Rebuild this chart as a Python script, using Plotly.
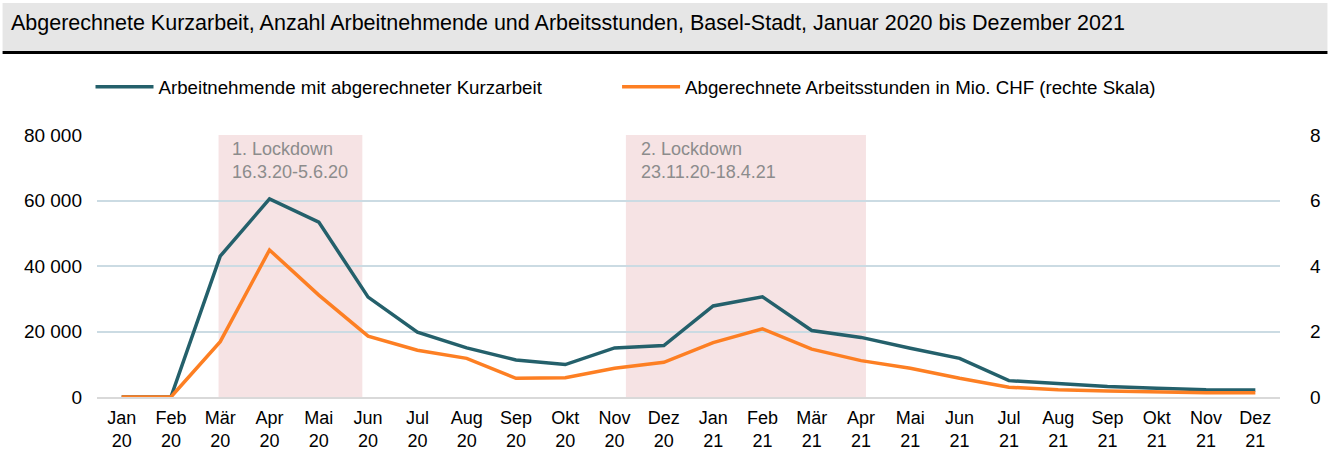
import plotly.graph_objects as go

months = ["Jan<br>20", "Feb<br>20", "Mär<br>20", "Apr<br>20", "Mai<br>20", "Jun<br>20",
          "Jul<br>20", "Aug<br>20", "Sep<br>20", "Okt<br>20", "Nov<br>20", "Dez<br>20",
          "Jan<br>21", "Feb<br>21", "Mär<br>21", "Apr<br>21", "Mai<br>21", "Jun<br>21",
          "Jul<br>21", "Aug<br>21", "Sep<br>21", "Okt<br>21", "Nov<br>21", "Dez<br>21"]

arbeitnehmende = [0, 0, 43000, 60500, 53400, 30500, 19800, 15000, 11300, 9900, 15000, 15700,
                  27800, 30600, 20300, 18200, 14900, 11800, 5000, 4000, 3200, 2700, 2200, 2100]

arbeitsstunden = [0, 0, 1.69, 4.49, 3.11, 1.86, 1.43, 1.18, 0.57, 0.59, 0.88, 1.06,
                  1.66, 2.08, 1.46, 1.11, 0.88, 0.57, 0.30, 0.22, 0.18, 0.15, 0.13, 0.13]

left_ticks = [0, 20000, 40000, 60000, 80000]
left_ticktext = ["0", "20 000", "40 000", "60 000", "80 000"]
right_ticks = [0, 2, 4, 6, 8]

lockdowns = [
    {"x0": 1.966, "x1": 4.883, "label": "1. Lockdown<br>16.3.20-5.6.20", "tx": 2.25},
    {"x0": 10.23, "x1": 15.1, "label": "2. Lockdown<br>23.11.20-18.4.21", "tx": 10.55},
]

title = "Abgerechnete Kurzarbeit, Anzahl Arbeitnehmende und Arbeitsstunden, Basel-Stadt, Januar 2020 bis Dezember 2021"

TEAL = "#24606b"
ORANGE = "#fd7f23"
FONT = "Liberation Sans, Arial, sans-serif"

xidx = list(range(len(months)))

fig = go.Figure()
fig.add_trace(go.Scatter(x=xidx, y=arbeitnehmende, mode="lines",
                         name="Arbeitnehmende mit abgerechneter Kurzarbeit",
                         line=dict(color=TEAL, width=3.5), yaxis="y", legend="legend"))
fig.add_trace(go.Scatter(x=xidx, y=arbeitsstunden, mode="lines",
                         name="Abgerechnete Arbeitsstunden in Mio. CHF (rechte Skala)",
                         line=dict(color=ORANGE, width=3.5), yaxis="y2", legend="legend2"))

W, H = 1328, 451
L, R, T, B = 96.5, 47.5, 135, 54
pw = W - L - R
ph = H - T - B

def px_x(px):
    return (px - L) / pw

def px_y(py):
    return (H - B - py) / ph

shapes = []
for ld in lockdowns:
    shapes.append(dict(type="rect", xref="x", yref="y", x0=ld["x0"], x1=ld["x1"],
                       y0=0, y1=80000, fillcolor="#f6e3e4", line=dict(width=0), layer="below"))
# title bar
shapes.append(dict(type="rect", xref="paper", yref="paper", x0=px_x(2), x1=px_x(W),
                   y0=px_y(51), y1=px_y(3), fillcolor="#e6e6e6", line=dict(width=0), layer="below"))
shapes.append(dict(type="rect", xref="paper", yref="paper", x0=px_x(2), x1=px_x(W),
                   y0=px_y(54), y1=px_y(51), fillcolor="#000000", line=dict(width=0), layer="below"))

annotations = [dict(text=title, xref="paper", yref="paper", x=px_x(8), y=px_y(23),
                    xanchor="left", yanchor="middle", showarrow=False,
                    font=dict(family=FONT, size=21.5, color="#000000"))]
for ld in lockdowns:
    annotations.append(dict(text=ld["label"], xref="x", yref="y", x=ld["tx"], y=80000,
                            xanchor="left", yanchor="top", align="left", showarrow=False,
                            xshift=-3, yshift=-2,
                            font=dict(family=FONT, size=18, color="#8c8c8c")))

legend_common = dict(orientation="h", xanchor="left", yanchor="middle", itemwidth=58,
                     font=dict(family=FONT, size=18.7, color="#000000"),
                     bgcolor="rgba(0,0,0,0)", borderwidth=0)

fig.update_layout(
    template="none",
    width=W, height=H,
    margin=dict(l=L, r=R, t=T, b=B, autoexpand=False),
    plot_bgcolor="white", paper_bgcolor="white",
    font=dict(family=FONT, size=19, color="#000000"),
    shapes=shapes, annotations=annotations,
    showlegend=True,
    legend=dict(x=px_x(90), y=px_y(87), **legend_common),
    legend2=dict(x=px_x(617), y=px_y(87), **legend_common),
    xaxis=dict(range=[-0.5, 23.5], tickvals=xidx, ticktext=months, showgrid=False,
               zeroline=False, showline=True, linecolor="#d9d9d9", linewidth=2,
               ticks="", ticklabelstandoff=3, automargin=False, tickfont=dict(size=18)),
    yaxis=dict(range=[0, 80000], tickvals=left_ticks, ticktext=left_ticktext,
               showgrid=True, gridcolor="#cbdbe3", gridwidth=1.5, zeroline=False,
               showline=False, ticks="", ticklabelstandoff=14, automargin=False,
               tickfont=dict(size=19)),
    yaxis2=dict(range=[0, 8], tickvals=right_ticks, overlaying="y", side="right",
                showgrid=False, zeroline=False, showline=False, ticks="",
                ticklabelstandoff=29, automargin=False, tickfont=dict(size=19)),
)

fig.write_html("out.html", config={"displayModeBar": False},
               post_script="document.body.style.margin='0px';")
